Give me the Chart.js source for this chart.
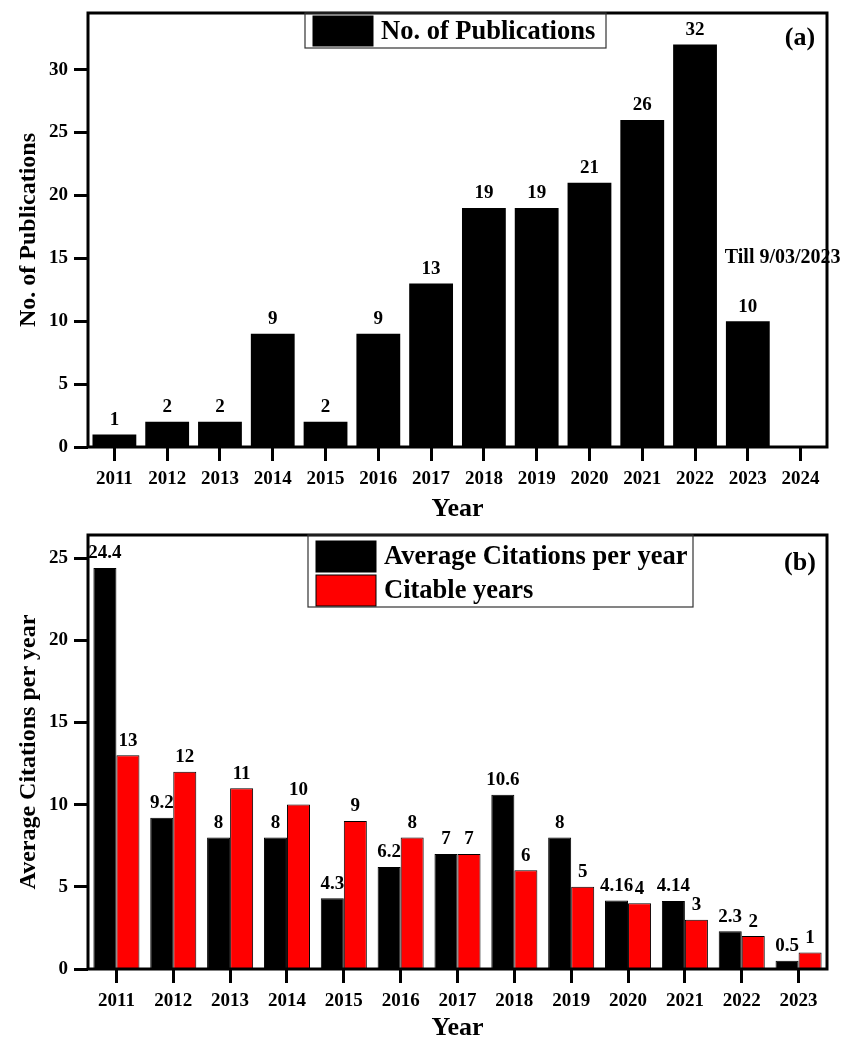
<!DOCTYPE html>
<html>
<head>
<meta charset="utf-8">
<script src="https://cdn.jsdelivr.net/npm/chart.js@4.4.1/dist/chart.umd.min.js"></script>
<style>
  body { margin: 0; background: #fff; overflow: hidden; }
  canvas { position: absolute; left: 0; }
  #pubChart { top: 0; }
  #citeChart { top: 520px; }
</style>
</head>
<body>
<canvas id="pubChart" width="841" height="525"></canvas>
<canvas id="citeChart" width="841" height="524"></canvas>
<script>
// (a) publications per year
const pubYears = ['2011','2012','2013','2014','2015','2016','2017','2018','2019','2020','2021','2022','2023','2024'];
const pubCounts = [1, 2, 2, 9, 2, 9, 13, 19, 19, 21, 26, 32, 10, null];

// (b) citations
const citeYears = ['2011','2012','2013','2014','2015','2016','2017','2018','2019','2020','2021','2022','2023'];
const avgCitations = [24.4, 9.2, 8, 8, 4.3, 6.2, 7, 10.6, 8, 4.16, 4.14, 2.3, 0.5];
const citableYears = [13, 12, 11, 10, 9, 8, 7, 6, 5, 4, 3, 2, 1];

const serif = '"Liberation Serif", "Times New Roman", serif';
Chart.defaults.font.family = serif;
Chart.defaults.color = '#000';

// value labels above bars
const barLabels = {
  id: 'barLabels',
  afterDatasetsDraw(chart) {
    const ctx = chart.ctx;
    ctx.save();
    ctx.font = 'bold 19px ' + serif;
    ctx.fillStyle = '#000';
    ctx.textAlign = 'center';
    ctx.textBaseline = 'bottom';
    chart.data.datasets.forEach((ds, i) => {
      chart.getDatasetMeta(i).data.forEach((bar, j) => {
        const v = ds.data[j];
        if (v === null || v === undefined) return;
        ctx.fillText(String(v), bar.x, bar.y - 5);
      });
    });
    ctx.restore();
  }
};

// note text, frame, panel letter and boxed legend
const frame = {
  id: 'frame',
  afterDatasetsDraw(chart, args, opts) {
    const ctx = chart.ctx;
    const a = chart.chartArea;
    ctx.save();
    if (opts.note) {
      ctx.font = 'bold 20px ' + serif;
      ctx.fillStyle = '#000';
      ctx.textAlign = 'left';
      ctx.textBaseline = 'middle';
      const x = chart.scales.x.getPixelForValue(opts.note.index) - 23;
      const y = chart.scales.y.getPixelForValue(opts.note.value);
      ctx.fillText(opts.note.text, x, y);
    }
    ctx.lineWidth = 3;
    ctx.strokeStyle = '#000';
    ctx.strokeRect(a.left, a.top, a.right - a.left, a.bottom - a.top);

    ctx.font = 'bold 26px ' + serif;
    ctx.textAlign = 'center';
    ctx.textBaseline = 'middle';
    ctx.fillText(opts.letter, a.right - 27, a.top + opts.letterY);

    // legend box
    const lg = opts.legend;
    ctx.lineWidth = 1.2;
    ctx.strokeStyle = '#333';
    ctx.strokeRect(a.left + lg.x, a.top, lg.w, lg.h);
    ctx.font = 'bold 26.5px ' + serif;
    ctx.textAlign = 'left';
    chart.data.datasets.forEach((ds, i) => {
      const sy = a.top + lg.rowTop + i * lg.rowH;
      ctx.fillStyle = ds.backgroundColor;
      ctx.fillRect(a.left + lg.x + 8, sy, 60, lg.rowH - 3);
      ctx.lineWidth = 1;
      ctx.strokeStyle = '#000';
      ctx.strokeRect(a.left + lg.x + 8, sy, 60, lg.rowH - 3);
      ctx.fillStyle = '#000';
      ctx.fillText(ds.label, a.left + lg.x + 76, sy + (lg.rowH - 3) / 2 + 1);
    });
    ctx.restore();
  }
};

function axes(yMax, yTitle) {
  return {
    x: {
      offset: true,
      grid: { display: true, drawOnChartArea: false, drawTicks: true, offset: false,
              tickLength: 14, tickWidth: 3, tickColor: '#000' },
      border: { display: false },
      ticks: { font: { size: 19, weight: 'bold' }, padding: 7, maxRotation: 0, autoSkip: false },
      title: { display: true, text: 'Year', font: { size: 26, weight: 'bold' }, padding: 0 },
      afterFit(s) {
        s.height = s.chart.height === 525 ? 78 : 75;
        s.paddingLeft = 0;
        s.paddingRight = 0;
      }
    },
    y: {
      min: 0,
      max: yMax,
      grid: { display: true, drawOnChartArea: false, drawTicks: true,
              tickLength: 14, tickWidth: 3, tickColor: '#000' },
      border: { display: false },
      ticks: { stepSize: 5, includeBounds: false, font: { size: 19, weight: 'bold' }, padding: 6 },
      title: { display: true, text: yTitle, font: { size: 24, weight: 'bold' }, padding: { top: 14 } },
      afterFit(s) {
        s.width = 88;
        s.paddingTop = 0;
        s.paddingBottom = 0;
      }
    }
  };
}

new Chart(document.getElementById('pubChart'), {
  type: 'bar',
  data: {
    labels: pubYears,
    datasets: [{
      label: 'No. of Publications',
      data: pubCounts,
      backgroundColor: '#000',
      borderColor: '#000',
      borderWidth: 0,
      categoryPercentage: 1,
      barPercentage: 0.83
    }]
  },
  options: {
    responsive: false,
    animation: false,
    devicePixelRatio: 1,
    layout: { padding: { top: 13, right: 14, left: 0, bottom: 0 } },
    plugins: {
      legend: { display: false },
      tooltip: { enabled: false },
      frame: {
        letter: '(a)', letterY: 25,
        note: { text: 'Till 9/03/2023', index: 12, value: 15 },
        legend: { x: 217, w: 301, h: 35, rowTop: 3, rowH: 33 }
      }
    },
    scales: axes(34.5, 'No. of Publications')
  },
  plugins: [barLabels, frame]
});

new Chart(document.getElementById('citeChart'), {
  type: 'bar',
  data: {
    labels: citeYears,
    datasets: [{
      label: 'Average Citations per year',
      data: avgCitations,
      backgroundColor: '#000',
      borderColor: '#000',
      borderWidth: 1,
      categoryPercentage: 0.81,
      barPercentage: 1
    }, {
      label: 'Citable years',
      data: citableYears,
      backgroundColor: '#ff0000',
      borderColor: '#000',
      borderWidth: 1,
      categoryPercentage: 0.81,
      barPercentage: 1
    }]
  },
  options: {
    responsive: false,
    animation: false,
    devicePixelRatio: 1,
    layout: { padding: { top: 15, right: 14, left: 0, bottom: 0 } },
    plugins: {
      legend: { display: false },
      tooltip: { enabled: false },
      frame: {
        letter: '(b)', letterY: 28,
        legend: { x: 220, w: 385, h: 72, rowTop: 6, rowH: 34 }
      }
    },
    scales: axes(26.4, 'Average Citations per year')
  },
  plugins: [barLabels, frame]
});
</script>
</body>
</html>
